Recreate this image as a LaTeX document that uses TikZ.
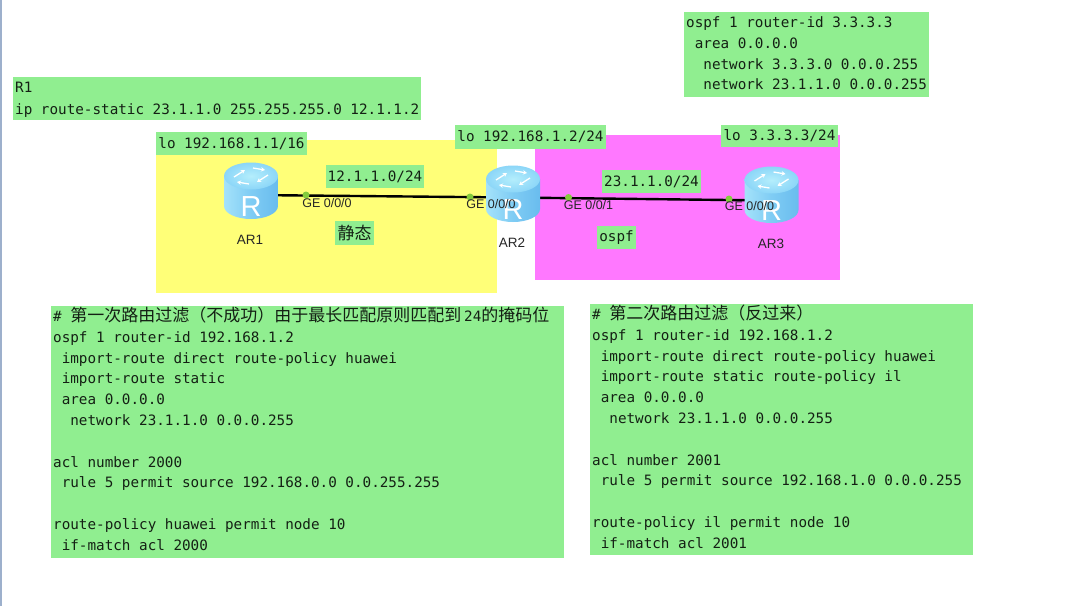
\documentclass[tikz,border=0pt]{standalone}
\usepackage{fontspec}
\setmainfont{Liberation Sans}
\setmonofont{DejaVu Sans Mono}
\newfontfamily\cjk{Noto Sans CJK SC}
\usetikzlibrary{arrows.meta}
\definecolor{labelgreen}{HTML}{90EE90}
\definecolor{zoneyellow}{HTML}{FFFF78}
\definecolor{zonemagenta}{HTML}{FF78FF}
\definecolor{inktext}{HTML}{142014}
\definecolor{portgreen}{HTML}{84CC3C}
\definecolor{sidestrip}{HTML}{9DB0CC}
\definecolor{bodylight}{HTML}{A4E2FA}
\definecolor{bodymid}{HTML}{7FCCF4}
\definecolor{bodydeep}{HTML}{69BCEE}
\definecolor{toplight}{HTML}{B4EEFC}
\definecolor{topedge}{HTML}{8CD6F8}
\newcommand{\codefont}{\ttfamily\fontsize{14.28}{20.8}\selectfont}
\newcommand{\titlefont}{\fontsize{17}{20.8}\selectfont\cjk}
\newcommand{\ind}[1]{\hspace*{#1\dimexpr 8.6pt\relax}}
\newcommand{\codebox}[5]{%
  \node[codenode] (#1) at (#2,#3) {\parbox[c][#5pt][t]{#4pt}{\raggedright\vspace*{0.7pt}\hspace*{2pt}\parbox[t]{\dimexpr #4pt-2pt\relax}{\CodeBody}}};}
\tikzset{
  x=1pt,y=-1pt,
  codenode/.style={anchor=north west,fill=labelgreen,inner sep=0pt,text=inktext,font=\codefont},
  monolabel/.style={fill=labelgreen,inner sep=0pt,text=inktext,font=\codefont},
  cjklabel/.style={fill=labelgreen,inner sep=0pt,text=inktext,font=\fontsize{17}{20}\selectfont\cjk},
  portlabel/.style={inner sep=0pt,text=black!85,font=\fontsize{12.5}{14}\selectfont},
  routername/.style={inner sep=0pt,text=black!85,font=\fontsize{13.5}{15}\selectfont},
  routeranchor/.style={inner sep=0pt,minimum size=1pt},
  link/.style={line width=2.4pt,black},
  portdot/.style={circle,fill=portgreen,inner sep=0pt,minimum size=7pt},
  routericon/.pic={
    \shade[left color=bodylight,right color=bodydeep,middle color=bodymid]
      (-27,-15) -- (-27,15) arc[start angle=180,end angle=0,x radius=27,y radius=13] -- (27,-15) -- cycle;
    \shade[inner color=toplight,outer color=topedge]
      (0,-15) ellipse[x radius=27,y radius=13.5];
    \begin{scope}[white,line width=1.3pt,arrows={-{Stealth[length=4pt,width=4.5pt]}}]
      \draw (-17,-14) -- (-6,-21);
      \draw (-2,-7) -- (-14,-9);
      \draw (17,-16) -- (6,-9);
      \draw (2,-23) -- (14,-21);
    \end{scope}
    \node[inner sep=0pt,text=white,font=\fontsize{29}{29}\selectfont] (-letter) at (0,15.5) {R};
  }
}
\begin{document}
\begin{tikzpicture}
\useasboundingbox (0,0) rectangle (1090,606);
\fill[white] (0,0) rectangle (1090,606);
\fill[sidestrip] (0,0) rectangle (2,606);
% zones
\fill[zoneyellow] (156,140) rectangle (497,293);
\fill[zonemagenta] (535,135) rectangle (840,280);
% small labels
\node[monolabel,minimum width=151pt,minimum height=23pt] (lo1) at (231.5,143.5) {lo 192.168.1.1/16};
\node[monolabel,minimum width=151pt,minimum height=24pt] (lo2) at (530.5,137) {lo 192.168.1.2/24};
\node[monolabel,minimum width=117pt,minimum height=22pt] (lo3) at (779.5,136) {lo 3.3.3.3/24};
\node[monolabel,minimum width=98pt,minimum height=23pt] (net1) at (375,176.5) {12.1.1.0/24};
\node[monolabel,minimum width=99pt,minimum height=23pt] (net2) at (651.5,181.5) {23.1.1.0/24};
\node[monolabel,minimum width=39pt,minimum height=23pt] (ospflabel) at (616.5,237.5) {ospf};
\node[cjklabel,minimum width=39pt,minimum height=24pt] (staticlabel) at (354.5,233) {静态};
% code boxes
\def\CodeBody{\strut R1\\[1pt]\strut ip route-static 23.1.1.0 255.255.255.0 12.1.1.2}
\codebox{boxrone}{13}{77}{408}{43}
\def\CodeBody{\strut ospf 1 router-id 3.3.3.3\\\ind{1}area 0.0.0.0\\\ind{2}network 3.3.3.0 0.0.0.255\\\ind{2}network 23.1.1.0 0.0.0.255}
\codebox{boxrthree}{684}{12}{245}{85}
\def\CodeBody{\strut\#\hspace{8.6pt}{\titlefont 第一次路由过滤（不成功）由于最长匹配原则匹配到\,}24{\titlefont 的掩码位}\\
ospf 1 router-id 192.168.1.2\\
\ind{1}import-route direct route-policy huawei\\
\ind{1}import-route static\\
\ind{1}area 0.0.0.0\\
\ind{2}network 23.1.1.0 0.0.0.255\\
\mbox{}\\
acl number 2000\\
\ind{1}rule 5 permit source 192.168.0.0 0.0.255.255\\
\mbox{}\\
route-policy huawei permit node 10\\
\ind{1}if-match acl 2000}
\codebox{boxfirst}{51}{306}{513}{252}
\def\CodeBody{\strut\#\hspace{8.6pt}{\titlefont 第二次路由过滤（反过来）}\\
ospf 1 router-id 192.168.1.2\\
\ind{1}import-route direct route-policy huawei\\
\ind{1}import-route static route-policy il\\
\ind{1}area 0.0.0.0\\
\ind{2}network 23.1.1.0 0.0.0.255\\
\mbox{}\\
acl number 2001\\
\ind{1}rule 5 permit source 192.168.1.0 0.0.0.255\\
\mbox{}\\
route-policy il permit node 10\\
\ind{1}if-match acl 2001}
\codebox{boxsecond}{590}{304}{383}{251}
% routers and links
\node[routeranchor] (r1) at (251,195) {};
\node[routeranchor] (r2) at (513,197.5) {};
\node[routeranchor] (r3) at (771,200.5) {};
\draw[link] (r1) -- (r2);
\draw[link] (r2) -- (r3);
\pic (iconone) at (251,191) {routericon};
\pic (icontwo) at (513,194) {routericon};
\pic (iconthree) at (771.5,195) {routericon};
\node[routername] (ar1) at (250,240) {AR1};
\node[routername] (ar2) at (512,243) {AR2};
\node[routername] (ar3) at (771,244) {AR3};
% ports
\node[portdot] (p1) at (306,195) {};
\node[portdot] (p2) at (470,197) {};
\node[portdot] (p3) at (568.5,197.5) {};
\node[portdot] (p4) at (729,199) {};
\node[portlabel] (ge1) at (327,203) {GE 0/0/0};
\node[portlabel] (ge2) at (491,204.5) {GE 0/0/0};
\node[portlabel] (ge3) at (588.5,205.5) {GE 0/0/1};
\node[portlabel] (ge4) at (749.5,206) {GE 0/0/0};
\end{tikzpicture}
\end{document}
